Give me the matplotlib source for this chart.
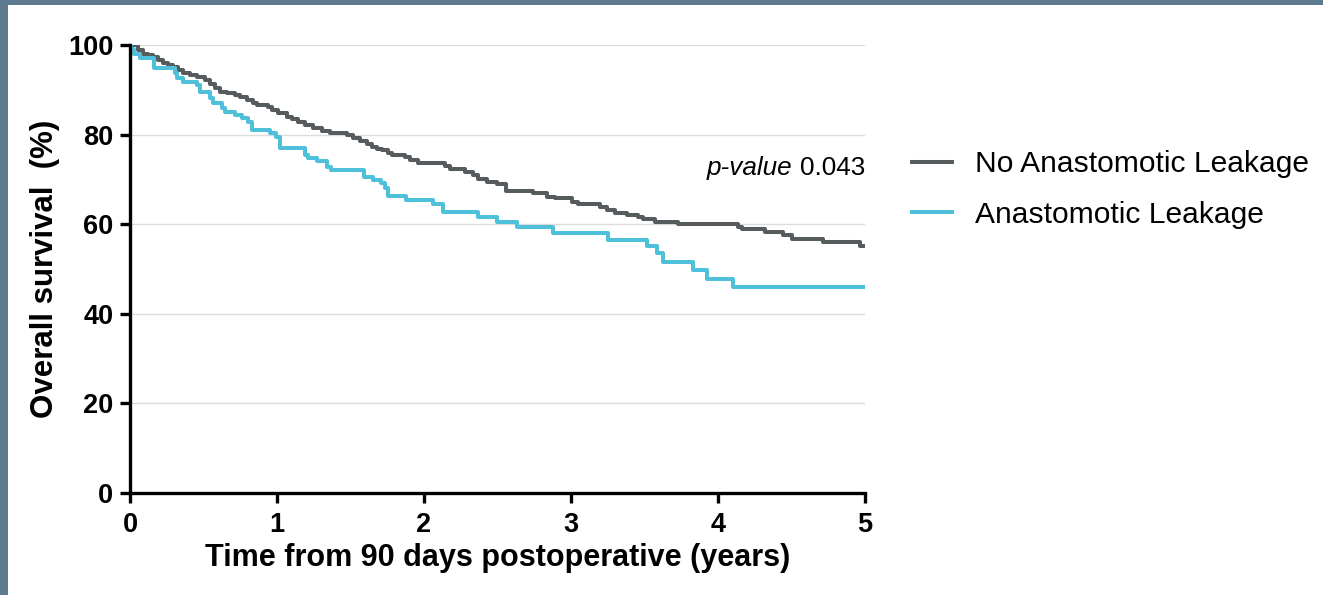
import matplotlib
matplotlib.use("Agg")
import matplotlib.pyplot as plt
from matplotlib.patches import Rectangle

# Kaplan-Meier step data: time (years) and overall survival (%)
no_leak_time = [0.0, 0.056, 0.090, 0.124, 0.159, 0.193, 0.227, 0.261, 0.295, 0.329,
                0.363, 0.408, 0.454, 0.510, 0.544, 0.578, 0.612, 0.658, 0.714, 0.748,
                0.794, 0.839, 0.862, 0.941, 0.964, 1.009, 1.066, 1.100, 1.145, 1.190,
                1.247, 1.304, 1.361, 1.474, 1.519, 1.565, 1.610, 1.644, 1.678, 1.712,
                1.757, 1.780, 1.871, 1.905, 1.961, 2.143, 2.177, 2.279, 2.335, 2.369,
                2.427, 2.495, 2.560, 2.744, 2.835, 2.891, 3.005, 3.050, 3.197, 3.243,
                3.299, 3.379, 3.458, 3.492, 3.571, 3.730, 4.138, 4.161, 4.320, 4.444,
                4.501, 4.716, 4.966, 5.0]
no_leak_surv = [100.0, 98.9, 98.1, 97.8, 97.4, 96.7, 95.9, 95.5, 95.2, 94.4,
                93.7, 93.3, 92.9, 92.2, 91.4, 90.3, 89.6, 89.2, 88.8, 88.5,
                87.7, 87.0, 86.6, 86.2, 85.5, 84.8, 84.0, 83.4, 82.9, 82.1,
                81.4, 80.9, 80.4, 79.9, 79.3, 78.6, 77.9, 77.2, 76.7, 76.5,
                76.0, 75.4, 74.9, 74.3, 73.7, 73.0, 72.3, 71.7, 71.0, 70.0,
                69.5, 68.9, 67.5, 66.9, 66.1, 65.8, 65.0, 64.5, 63.9, 63.2,
                62.6, 62.1, 61.7, 61.1, 60.6, 60.0, 59.4, 58.9, 58.2, 57.6,
                56.8, 56.1, 55.1, 55.1]

leak_time = [0.0, 0.010, 0.030, 0.068, 0.160, 0.306, 0.317, 0.363, 0.454, 0.476,
             0.544, 0.567, 0.624, 0.646, 0.714, 0.760, 0.805, 0.830, 0.950, 0.990,
             1.020, 1.190, 1.210, 1.270, 1.340, 1.370, 1.590, 1.655, 1.710, 1.735,
             1.757, 1.880, 2.060, 2.130, 2.370, 2.494, 2.630, 2.880, 3.253, 3.515,
             3.583, 3.628, 3.832, 3.923, 4.104, 5.0]
leak_surv = [100.0, 99.0, 98.0, 97.0, 94.8, 93.7, 92.6, 91.8, 91.1, 89.6,
             88.1, 87.0, 85.9, 85.1, 84.4, 83.6, 82.8, 81.0, 80.3, 79.5,
             76.9, 75.4, 74.7, 74.0, 72.8, 72.1, 70.6, 69.9, 69.1, 68.0,
             66.3, 65.4, 64.5, 62.8, 61.5, 60.4, 59.3, 58.0, 56.5, 55.1,
             53.5, 51.6, 49.8, 47.8, 45.9, 45.9]

x_ticks = [0, 1, 2, 3, 4, 5]
y_ticks = [0, 20, 40, 60, 80, 100]
series_labels = ["No Anastomotic Leakage", "Anastomotic Leakage"]
p_value = 0.043

GREY = "#565b5e"
CYAN = "#4fc0da"
plt.rcParams["font.family"] = ["Liberation Sans", "DejaVu Sans"]

fig = plt.figure(figsize=(13.23, 5.95), dpi=100)
fig.patch.set_facecolor("white")

# slate frame strips along the top and left edges
fig.patches.append(Rectangle((0, 1 - 5 / 595), 1, 5 / 595, transform=fig.transFigure,
                             facecolor="#5d7a8e", edgecolor="none", zorder=0))
fig.patches.append(Rectangle((0, 0), 7.5 / 1323, 1, transform=fig.transFigure,
                             facecolor="#5d7a8e", edgecolor="none", zorder=0))

ax = fig.add_axes([130 / 1323, 102 / 595, 735 / 1323, 448 / 595])

ax.step(no_leak_time, no_leak_surv, where="post", color=GREY, lw=2.9,
        label=series_labels[0], zorder=3)
ax.step(leak_time, leak_surv, where="post", color=CYAN, lw=2.9,
        label=series_labels[1], zorder=3)

ax.set_xlim(0, 5)
ax.set_ylim(0, 100)
ax.set_xticks(x_ticks)
ax.set_yticks(y_ticks)
ax.yaxis.grid(True, color="#dcdcdc", lw=1.0, zorder=0)
ax.set_axisbelow(True)

for side in ("top", "right"):
    ax.spines[side].set_visible(False)
for side in ("left", "bottom"):
    ax.spines[side].set_linewidth(2.4)
    ax.spines[side].set_color("black")
    ax.spines[side].set_zorder(4)

ax.tick_params(axis="both", direction="out", length=7, width=2.4, color="black",
               labelsize=19.5)
ax.tick_params(axis="x", pad=7)
ax.tick_params(axis="y", pad=5)
for lab in ax.get_xticklabels() + ax.get_yticklabels():
    lab.set_fontweight("bold")

ax.set_xlabel("Time from 90 days postoperative (years)", fontsize=22,
              fontweight="bold", labelpad=3)
ax.set_ylabel("Overall survival  (%)", fontsize=22.5, fontweight="bold", labelpad=5.5)

# p-value annotation: italic label followed by the value, right-aligned at x = 5
pv = ax.text(5.0, 72.5, f"{p_value:.3f}", fontsize=18.8, ha="right", va="center")
fig.canvas.draw()
bb = pv.get_window_extent(fig.canvas.get_renderer())
x_left = ax.transData.inverted().transform((bb.x0, bb.y0))[0]
ax.text(x_left, 72.5, "p-value ", fontsize=18.8, fontstyle="italic",
        ha="right", va="center")

leg = ax.legend(loc="upper left", bbox_to_anchor=(1.064, 0.765), frameon=False,
                fontsize=21.6, handlelength=1.33, handletextpad=0.77,
                labelspacing=0.75, borderaxespad=0, borderpad=0)
for line in leg.get_lines():
    line.set_linewidth(2.9)

fig.savefig("out.png", dpi=100, facecolor="white")
